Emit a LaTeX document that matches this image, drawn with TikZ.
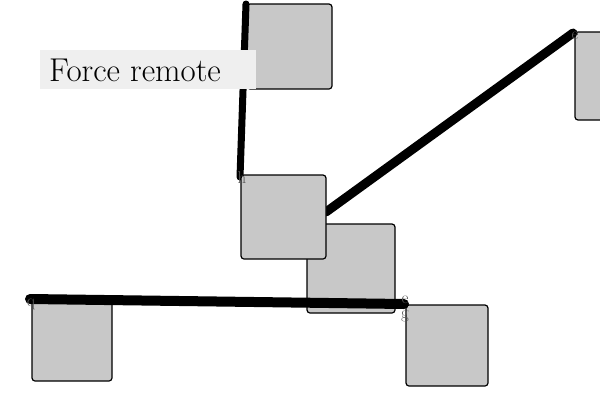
\documentclass[tikz,border=0pt]{standalone}
\usepackage{fontspec}
\newcommand{\tagfnt}{\fontsize{17}{17}\selectfont}
\tikzset{
  box/.style={draw=black,line width=1.2pt,fill=boxgray,rounded corners=3pt},
  edge/.style={line width=8pt,line cap=round,draw=black},
  tag/.style={inner sep=0pt,text=tagcol}}
\definecolor{boxgray}{HTML}{C8C8C8}
\definecolor{labelbg}{HTML}{EFEFEF}
\definecolor{tagcol}{HTML}{5A5A5A}
\begin{document}
\begin{tikzpicture}[x=1pt,y=-1pt]
\useasboundingbox (0,0) rectangle (600,400);
\begin{scope}
\clip (0,0) rectangle (600,400);
% boxes
\draw[box] (247,4) rectangle (332,89);
\draw[box] (307,224) rectangle (395,313);
\draw[box] (575,32) rectangle (615,120);
\draw[box] (32,299) rectangle (112,381);
\draw[box] (406,305) rectangle (488,386);
% anchors
\coordinate (a1) at (246,4);
\coordinate (a2) at (240,177);
\coordinate (b1) at (326,212);
\coordinate (b2) at (573,33);
\coordinate (c1) at (30,299);
\coordinate (c2) at (404,304);
\draw[edge,line width=7pt] (a1) -- (a2);
\draw[edge,line width=9pt] (b1) -- (b2);
\draw[edge,line width=10pt] (c1) -- (c2);
\draw[box] (241,175) rectangle (326,259);
% small tags
\node[tag] (th) at (242,178) {\tagfnt h};
\node[tag] (te) at (575,36) {\tagfnt e};
\node[tag] (tq) at (31,304) {\tagfnt q};
\node[tag] (tc) at (405,300) {\tagfnt e};
\node[tag] (tg) at (405,316) {\tagfnt g};
% label
\node[fill=labelbg,inner sep=0pt,minimum width=216pt,minimum height=39pt] (lbl) at (148,69.5) {};
\node[anchor=west,inner sep=0pt,font=\fontsize{33}{36}\selectfont] (lbltext) at (49,70) {Force remote};
\end{scope}
\end{tikzpicture}
\end{document}
